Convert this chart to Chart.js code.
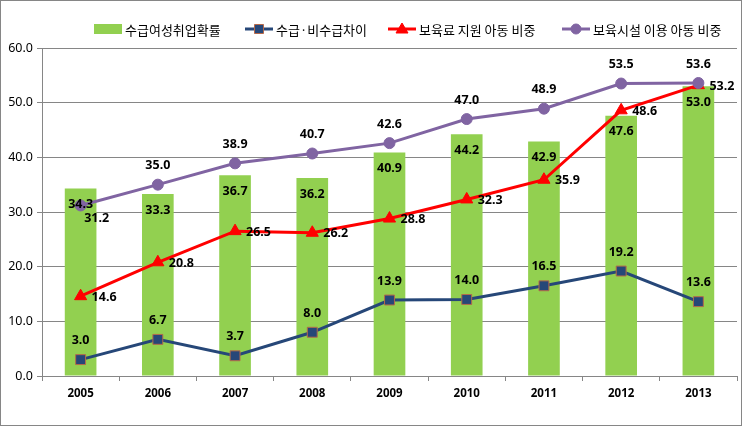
<!DOCTYPE html>
<html><head><meta charset="utf-8">
<script src="https://cdn.jsdelivr.net/npm/chart.js@4.4.0/dist/chart.umd.min.js"></script>
<style>html,body{margin:0;padding:0;background:#fff}#wrap{width:745px;height:427px;position:relative}</style>
</head><body><div id="wrap"><canvas id="c" width="745" height="427"></canvas></div>
<script>
const years = ['2005','2006','2007','2008','2009','2010','2011','2012','2013'];
const employmentRate = [34.3,33.3,36.7,36.2,40.9,44.2,42.9,47.6,53.0];
const recipientGap = [3.0,6.7,3.7,8.0,13.9,14.0,16.5,19.2,13.6];
const subsidyShare = [14.6,20.8,26.5,26.2,28.8,32.3,35.9,48.6,53.2];
const facilityShare = [31.2,35.0,38.9,40.7,42.6,47.0,48.9,53.5,53.6];
const seriesNames = ['수급여성취업확률','수급·비수급차이','보육료 지원 아동 비중','보육시설 이용 아동 비중'];
const yMin = 0, yMax = 60, yStep = 10;

const GREEN = '#92D050', NAVY = '#264778', RED = '#FF0000', PURPLE = '#8064A2', GRID = '#868686';
const NUM_FONT = '"Noto Sans", "DejaVu Sans", sans-serif';
const KR_FONT = '"Noto Sans CJK KR", sans-serif';

const labelPlugin = {
  id: 'valueLabels',
  afterDatasetsDraw(chart) {
    const ctx = chart.ctx;
    ctx.save();
    ctx.font = 'bold 12.5px ' + NUM_FONT;
    ctx.fillStyle = '#000';
    ctx.textBaseline = 'middle';
    chart.data.datasets.forEach((ds, di) => {
      const meta = chart.getDatasetMeta(di);
      meta.data.forEach((el, i) => {
        const txt = ds.data[i].toFixed(1);
        let pos = ds.labelPos;
        if (ds.labelOverride && ds.labelOverride[i]) pos = ds.labelOverride[i];
        let x = el.x, y = el.y;
        ctx.textAlign = 'center';
        if (pos === 'inside') { y = el.y + 16; }
        else if (pos === 'above') { y = el.y - 19; }
        else if (pos === 'right') { x = el.x + 11; y = el.y + 1; ctx.textAlign = 'left'; }
        else if (pos === 'belowRight') { x = el.x + 16; y = el.y + 13; }
        ctx.fillText(txt, x, y);
      });
    });
    ctx.restore();
  }
};

const frameLegendPlugin = {
  id: 'frameLegend',
  afterDraw(chart) {
    const ctx = chart.ctx;
    ctx.save();
    ctx.strokeStyle = GRID; ctx.lineWidth = 1;
    ctx.strokeRect(0.5, 0.5, 741, 425);
    const cy = 29;
    const starts = [94, 245, 388, 562];
    ctx.font = '13px ' + KR_FONT;
    ctx.textBaseline = 'middle';
    ctx.textAlign = 'left';
    chart.data.datasets.forEach((ds, i) => {
      const x0 = starts[i];
      if (ds.type === 'bar') {
        ctx.fillStyle = GREEN;
        ctx.fillRect(x0, cy - 5, 28, 10);
      } else {
        ctx.strokeStyle = ds.borderColor; ctx.lineWidth = 3;
        ctx.beginPath(); ctx.moveTo(x0, cy); ctx.lineTo(x0 + 28, cy); ctx.stroke();
        ctx.fillStyle = ds.pointBackgroundColor; ctx.strokeStyle = ds.pointBorderColor; ctx.lineWidth = ds.pointBorderWidth || 1;
        ctx.beginPath();
        if (ds.pointStyle === 'rect') { ctx.rect(x0 + 9.5, cy - 4.5, 9, 9); }
        else if (ds.pointStyle === 'triangle') { ctx.moveTo(x0 + 14, cy - 6); ctx.lineTo(x0 + 20, cy + 4); ctx.lineTo(x0 + 8, cy + 4); ctx.closePath(); }
        else { ctx.arc(x0 + 14, cy, 5, 0, Math.PI * 2); }
        ctx.fill(); ctx.stroke();
      }
      ctx.fillStyle = '#000';
      ctx.fillText(seriesNames[i], x0 + 31, cy + 1);
    });
    ctx.restore();
  }
};

new Chart(document.getElementById('c'), {
  data: {
    labels: years,
    datasets: [
      { type: 'bar', label: seriesNames[0], data: employmentRate, backgroundColor: GREEN, borderWidth: 0,
        barPercentage: 0.41, categoryPercentage: 1.0, order: 5, labelPos: 'inside' },
      { type: 'line', label: seriesNames[1], data: recipientGap, borderColor: NAVY, borderWidth: 3,
        pointStyle: 'rect', pointRadius: 7, pointBackgroundColor: NAVY, pointBorderColor: '#B5694A', pointBorderWidth: 1,
        tension: 0, order: 3, labelPos: 'above' },
      { type: 'line', label: seriesNames[2], data: subsidyShare, borderColor: RED, borderWidth: 3,
        pointStyle: 'triangle', pointRadius: 7, pointBackgroundColor: RED, pointBorderColor: RED, pointBorderWidth: 1,
        tension: 0, order: 2, labelPos: 'right' },
      { type: 'line', label: seriesNames[3], data: facilityShare, borderColor: PURPLE, borderWidth: 3,
        pointStyle: 'circle', pointRadius: 5.5, pointBackgroundColor: PURPLE, pointBorderColor: PURPLE, pointBorderWidth: 1,
        tension: 0, order: 1, labelPos: 'above', labelOverride: {0: 'belowRight'} }
    ]
  },
  options: {
    responsive: false, animation: false, devicePixelRatio: 1,
    layout: { padding: { top: 48, right: 2, left: 0, bottom: 0 } },
    plugins: { legend: { display: false }, tooltip: { enabled: false } },
    scales: {
      x: {
        type: 'category', offset: true,
        grid: { offset: true, drawOnChartArea: false, drawTicks: true, tickLength: 5, color: GRID },
        border: { color: GRID, width: 1 },
        ticks: { font: { family: NUM_FONT, size: 11.5, weight: 'bold' }, color: '#000', padding: 6, maxRotation: 0 },
        afterFit(s) { s.height = 51; }
      },
      y: {
        min: yMin, max: yMax,
        grid: { color: GRID, tickLength: 5 },
        border: { color: GRID, width: 1 },
        ticks: { stepSize: yStep, font: { family: NUM_FONT, size: 12.5 }, color: '#000', padding: 4,
          callback: v => v.toFixed(1) },
        afterFit(s) { s.width = 42; }
      }
    }
  },
  plugins: [labelPlugin, frameLegendPlugin]
});
</script></body></html>
